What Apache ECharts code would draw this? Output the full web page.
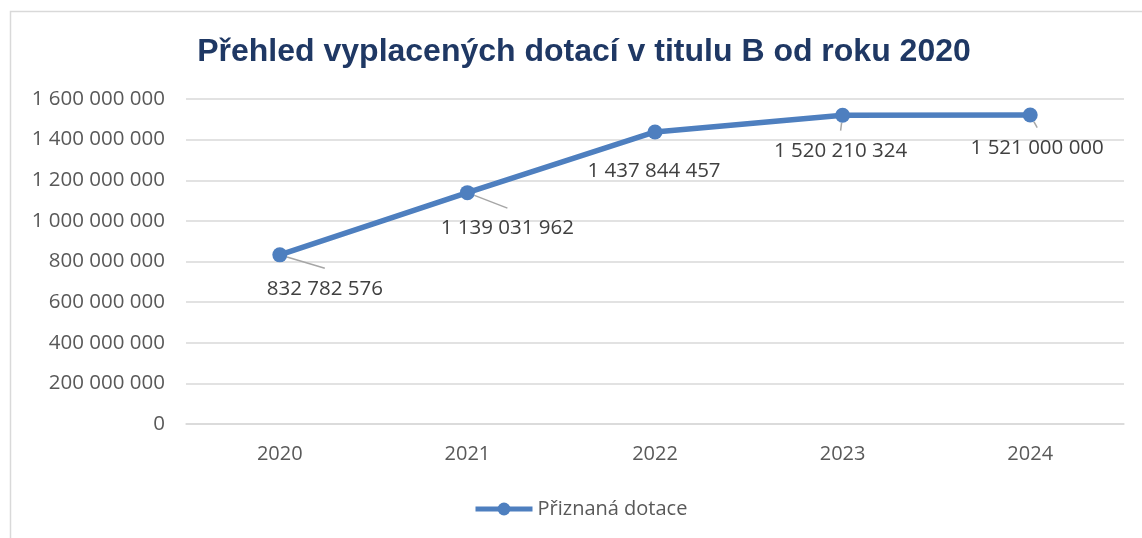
<!DOCTYPE html>
<html>
<head>
<meta charset="utf-8">
<script src="https://cdn.jsdelivr.net/npm/echarts@6/dist/echarts.min.js"></script>
<style>
  html, body { margin: 0; padding: 0; background: #fff; }
  #chart { width: 1142px; height: 538px; }
</style>
</head>
<body>
<div id="chart"></div>
<script>
const years = ["2020", "2021", "2022", "2023", "2024"];
const dotace = [832782576, 1139031962, 1437844457, 1520210324, 1521000000];
// label offsets from the point (px) and whether a leader line is drawn
const labelShift = [[45, 34], [40, 36], [-1, 39], [-2, 36], [7, 33]];
const showLeader = [true, true, false, true, true];

const fmt = (v) => String(v).replace(/\B(?=(\d{3})+(?!\d))/g, " ");

const seriesData = dotace.map((v, i) => ({
  value: v,
  labelLine: { show: showLeader[i] },
}));

const chart = echarts.init(document.getElementById("chart"));
chart.setOption({
  animation: false,
  graphic: [{
    type: "rect",
    left: 8,
    top: 9,
    shape: { width: 1200, height: 600 },
    style: { fill: "none", stroke: "#d9d9d9", lineWidth: 1.5 },
    silent: true,
  }],
  title: {
    text: "Přehled vyplacených dotací v titulu B od roku 2020",
    left: 579,
    top: 31,
    textAlign: "center",
    textStyle: { fontFamily: "Liberation Sans", fontSize: 32, fontWeight: "bold", color: "#1f3864" },
  },
  legend: {
    bottom: 14,
    left: 468,
    itemWidth: 57,
    itemHeight: 16,
    itemGap: 4,
    lineStyle: { width: 5 },
    textStyle: { fontFamily: "Open Sans", fontSize: 20, color: "#595959" },
    data: ["Přiznaná dotace"],
  },
  grid: { left: 186, right: 18, top: 99, bottom: 114 },
  xAxis: {
    type: "category",
    data: years,
    axisLine: { lineStyle: { color: "#d9d9d9", width: 1.5 } },
    axisTick: { show: false },
    axisLabel: { fontFamily: "Open Sans", fontSize: 20, color: "#595959", margin: 20 },
  },
  yAxis: {
    type: "value",
    min: 0,
    max: 1600000000,
    interval: 200000000,
    axisLine: { show: false },
    axisTick: { show: false },
    splitLine: { lineStyle: { color: "#d9d9d9", width: 1.5 } },
    axisLabel: { fontFamily: "Open Sans", fontSize: 20.5, color: "#595959", margin: 21, formatter: fmt },
  },
  series: [{
    name: "Přiznaná dotace",
    type: "line",
    data: seriesData,
    symbol: "circle",
    symbolSize: 15,
    lineStyle: { color: "#4e7fbf", width: 5.5 },
    itemStyle: { color: "#4e7fbf" },
    label: {
      show: true,
      position: "inside",
      fontFamily: "Open Sans",
      fontSize: 20.5,
      color: "#404040",
      backgroundColor: "rgba(255,255,255,0)",
      padding: [10, 20, 10, 20],
      formatter: (p) => fmt(p.value),
    },
    labelLine: { show: true, lineStyle: { color: "#a6a6a6", width: 1.5 } },
    labelLayout: (p) => ({ dx: labelShift[p.dataIndex][0], dy: labelShift[p.dataIndex][1] }),
  }],
});
</script>
</body>
</html>
